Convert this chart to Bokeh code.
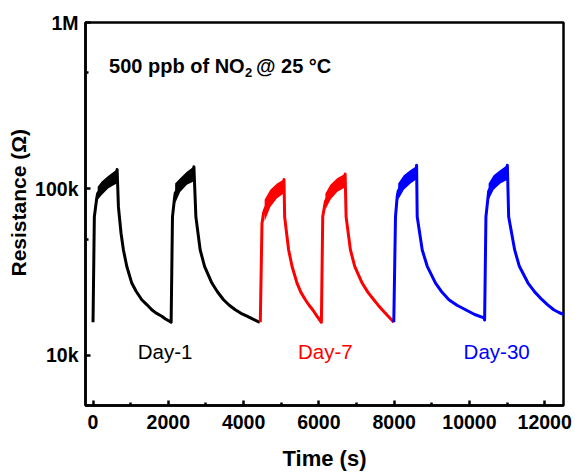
from bokeh.plotting import figure
from bokeh.models import FixedTicker, CustomJSTickFormatter, Label, Title
from bokeh.embed import file_html
from bokeh.resources import INLINE

# ---------------- data ----------------
# time in s, resistance in kOhm
day1_time = [0, 35, 98, 124, 231, 408, 630, 640, 675, 701, 745, 808, 896, 1029, 1144, 1295, 1428, 1561,
             1668, 1827, 1916, 2075,
             2111, 2165, 2182, 2315, 2493, 2670, 2680, 2733, 2847, 2963, 3158, 3300, 3467, 3620, 3779,
             3930, 4090, 4250, 4430]
day1_res = [15.8, 68, 88, 94, 101, 110, 119, 131, 78, 68, 54, 43, 34.3, 27.2, 24.3, 21.6, 20.2, 18.8,
            18.0, 17.2, 16.6, 15.8,
            68, 88, 94, 105, 116, 123, 136, 68, 43, 34.3, 27.2, 24.2, 21.6, 20.0, 18.8,
            17.9, 17.2, 16.5, 15.8]
day1_band_time = [[124, 231, 408, 630], [2182, 2315, 2493, 2670]]
day1_band_low = [[86, 92, 101, 108], [82, 96, 106, 111]]
day1_band_high = [[103, 111, 120, 131], [108, 116, 127, 136]]

day7_time = [4444, 4489, 4532, 4559, 4710, 4888, 5064, 5074, 5091, 5197, 5287, 5420, 5520, 5641, 5740,
             5836, 5950, 6067,
             6103, 6156, 6174, 6307, 6485, 6688, 6698, 6724, 6839, 6953, 7150, 7300, 7459, 7570, 7682,
             7830, 7991]
day7_res = [15.8, 62, 72, 75, 88, 98, 104, 114, 68, 43, 34.3, 27.2, 24.0, 21.6, 20.0,
            18.8, 17.2, 15.8,
            68, 80, 84, 96, 106, 112, 123, 68, 43, 34.3, 27.2, 24.0, 21.6, 20.1, 18.8,
            17.3, 15.8]
day7_band_time = [[4559, 4710, 4888, 5064], [6174, 6307, 6485, 6688]]
day7_band_low = [[64, 78, 88, 94], [75, 86, 96, 102]]
day7_band_high = [[86, 99, 108, 114], [94, 106, 116, 123]]

day30_time = [7991, 8036, 8081, 8108, 8258, 8436, 8587, 8597, 8613, 8747, 8880, 9100, 9270, 9455, 9670,
              9899, 10140, 10386,
              10404, 10439, 10492, 10511, 10644, 10822, 10998, 11008, 11043, 11203, 11327, 11557, 11740,
              11930, 12080, 12240, 12380, 12507]
day30_res = [15.8, 68, 90, 97, 110, 119, 125, 139, 68, 43, 34.3, 27.2, 24.0, 21.6, 20.0,
             18.8, 17.6, 16.8,
             16.3, 68, 88, 97, 110, 119, 126, 139, 68, 43, 34.3, 27.2, 24.0,
             21.6, 20.1, 18.8, 18.1, 17.6]
day30_band_time = [[8108, 8258, 8436, 8587], [10511, 10644, 10822, 10998]]
day30_band_low = [[86, 99, 108, 114], [86, 99, 108, 113]]
day30_band_high = [[108, 121, 130, 137], [108, 121, 130, 139]]

series_names = ["Day-1", "Day-7", "Day-30"]
series_colors = ["black", "#ff0000", "#0000ff"]
label_time = [1916, 6173, 10724]
label_res = [10.6, 10.6, 10.6]

x_ticks = [0, 2000, 4000, 6000, 8000, 10000, 12000]
x_minor = [1000, 3000, 5000, 7000, 9000, 11000]
y_ticks = [1e4, 1e5, 1e6]
y_minor = [5e3, 5e4, 5e5]

FONT = "Liberation Sans"

p = figure(width=575, height=473, output_backend="svg", toolbar_location=None,
           x_range=(-200, 12500), y_range=(5000, 1e6), y_axis_type="log",
           min_border_left=85, min_border_right=12, min_border_top=22, min_border_bottom=66)
p.grid.visible = False
p.outline_line_color = "black"
p.outline_line_width = 2.5
p.background_fill_color = "white"
p.border_fill_color = "white"

all_data = [
    (day1_time, day1_res, day1_band_time, day1_band_low, day1_band_high),
    (day7_time, day7_res, day7_band_time, day7_band_low, day7_band_high),
    (day30_time, day30_res, day30_band_time, day30_band_low, day30_band_high),
]
for (t, r, bt, bl, bh), col in zip(all_data, series_colors):
    p.line([v for v in t], [v * 1000 for v in r], line_color=col, line_width=3,
           line_join="round")
    for tt, lo, hi in zip(bt, bl, bh):
        p.varea(x=tt, y1=[v * 1000 for v in lo], y2=[v * 1000 for v in hi], fill_color=col)

p.text(x=label_time, y=[v * 1000 for v in label_res], text=series_names,
       text_color=series_colors, text_font={"value": FONT}, text_font_size="20.5px",
       text_align="center", text_baseline="middle")

# axes
p.xaxis.ticker = FixedTicker(ticks=x_ticks, minor_ticks=x_minor)
p.yaxis.ticker = FixedTicker(ticks=y_ticks, minor_ticks=y_minor)
p.yaxis.formatter = CustomJSTickFormatter(
    code="return tick >= 1e6 ? (tick/1e6).toFixed(0) + 'M' : (tick/1e3).toFixed(0) + 'k';")
for ax in (p.xaxis[0], p.yaxis[0]):
    ax.axis_line_width = 2.5
    ax.major_tick_line_width = 2.5
    ax.minor_tick_line_width = 2.5
    ax.major_tick_in = 5
    ax.major_tick_out = 0
    ax.minor_tick_in = 3
    ax.minor_tick_out = 0
    ax.major_label_text_font = FONT
    ax.major_label_text_font_style = "bold"
    ax.major_label_text_font_size = "19.5px"
    ax.major_label_text_color = "black"
    ax.axis_label_text_font = FONT
    ax.axis_label_text_font_style = "bold"
    ax.axis_label_text_font_size = "22px"
    ax.axis_label_text_color = "black"
p.xaxis.axis_label = "Time (s)"
p.xaxis.major_label_standoff = 9
p.yaxis.major_label_standoff = 7
p.xaxis.axis_label_standoff = 14

# y-axis title as a side Title, shifted a little above the frame centre as in the reference
p.add_layout(Title(text="Resistance (Ω)", align="left", offset=129, standoff=6,
                   text_font=FONT, text_font_style="bold", text_font_size="21px",
                   text_color="black"), "left")

# annotation "500 ppb of NO2 @ 25 °C" in data coordinates
ann_font = "20px"
p.add_layout(Label(x=426, y=547000, text="500 ppb of NO", text_color="black",
                   text_font=FONT, text_font_style="bold", text_font_size=ann_font,
                   text_baseline="alphabetic"))
p.add_layout(Label(x=4040, y=502000, text="2", text_color="black",
                   text_font=FONT, text_font_style="bold", text_font_size="13px",
                   text_baseline="alphabetic"))
p.add_layout(Label(x=4330, y=547000, text="@ 25 °C", text_color="black",
                   text_font=FONT, text_font_style="bold", text_font_size=ann_font,
                   text_baseline="alphabetic"))

open("out.html", "w").write(file_html(p, INLINE))
